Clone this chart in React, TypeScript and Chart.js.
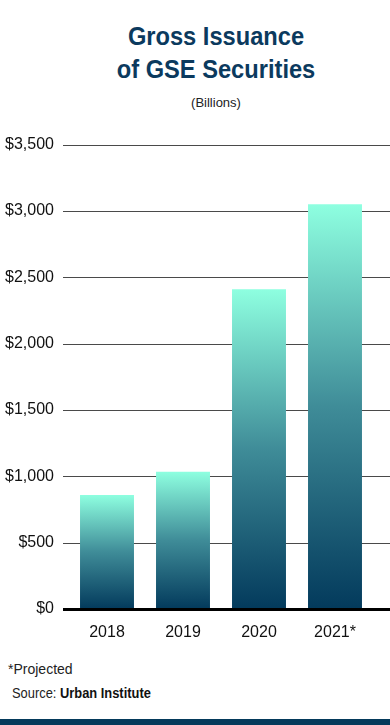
import React, { useEffect, useRef } from "react";
import { Chart, registerables } from "chart.js";

Chart.register(...registerables);

const categories = ["2018", "2019", "2020", "2021*"];
const issuance = [860, 1035, 2410, 3050];
const yTicks = [0, 500, 1000, 1500, 2000, 2500, 3000, 3500];
const yTickLabels = ["$0", "$500", "$1,000", "$1,500", "$2,000", "$2,500", "$3,000", "$3,500"];

const FONT = "'Liberation Sans', Arial, sans-serif";
const NAVY = "#0b3a5e";

const gridPlugin = {
  id: "extendedGrid",
  beforeDatasetsDraw(chart: any) {
    const { ctx, chartArea } = chart;
    const y = chart.scales.y;
    const x0 = chartArea.left - 6;
    const x1 = chart.width;
    ctx.save();
    yTicks.forEach((v) => {
      if (v === 0) return;
      const py = Math.round(y.getPixelForValue(v)) + 0.5;
      ctx.strokeStyle = "#4a4a4a";
      ctx.lineWidth = 1;
      ctx.beginPath();
      ctx.moveTo(x0, py);
      ctx.lineTo(x1, py);
      ctx.stroke();
    });
    ctx.restore();
  },
  afterDatasetsDraw(chart: any) {
    const { ctx, chartArea } = chart;
    const y = chart.scales.y;
    const py = y.getPixelForValue(0);
    ctx.save();
    ctx.fillStyle = "#000";
    ctx.fillRect(chartArea.left - 6, py - 1, chart.width - chartArea.left + 6, 3);
    ctx.restore();
  },
};

export default function App() {
  const ref = useRef<HTMLCanvasElement>(null);

  useEffect(() => {
    if (!ref.current) return;
    const chart = new Chart(ref.current, {
      type: "bar",
      data: {
        labels: categories,
        datasets: [
          {
            data: issuance,
            backgroundColor: (c: any) => {
              const ch = c.chart;
              if (!ch.chartArea || c.type !== "data") return "#3a8a9a";
              const ys = ch.scales.y;
              const top = ys.getPixelForValue(c.raw);
              const bottom = ys.getPixelForValue(0);
              const g = ch.ctx.createLinearGradient(0, top, 0, bottom);
              g.addColorStop(0, "#8effe0");
              g.addColorStop(0.5, "#3f8c98");
              g.addColorStop(1, "#033a5c");
              return g;
            },
            borderWidth: 0,
            barPercentage: 0.71,
            categoryPercentage: 1,
          },
        ],
      },
      options: {
        animation: false,
        responsive: false,
        maintainAspectRatio: false,
        layout: { padding: { top: 19, right: 17, left: 0, bottom: 0 } },
        plugins: { legend: { display: false }, tooltip: { enabled: false } },
        scales: {
          x: {
            grid: { display: false, drawTicks: false },
            border: { display: false },
            ticks: {
              color: "#111",
              padding: 14,
              font: { family: FONT, size: 16 },
            },
            afterFit: (s: any) => {
              s.height = 51;
            },
          },
          y: {
            min: 0,
            max: 3500,
            grid: { display: false, drawTicks: false },
            border: { display: false },
            afterBuildTicks: (s: any) => {
              s.ticks = yTicks.map((v) => ({ value: v }));
            },
            ticks: {
              color: "#111",
              padding: 15,
              font: { family: FONT, size: 16 },
              callback: (v: any) => {
                const i = yTicks.indexOf(Number(v));
                return i >= 0 ? yTickLabels[i] : "";
              },
            },
            afterFit: (s: any) => {
              s.width = 69;
            },
          },
        },
      },
      plugins: [gridPlugin],
    });
    return () => chart.destroy();
  }, []);

  return (
    <div
      style={{
        position: "absolute",
        left: 0,
        top: 0,
        width: 390,
        height: 725,
        background: "#fff",
        overflow: "hidden",
        fontFamily: FONT,
      }}
    >
      <div
        style={{
          position: "absolute",
          left: 42,
          width: 348,
          top: 20,
          textAlign: "center",
          color: NAVY,
          fontWeight: 700,
          fontSize: 26,
          lineHeight: "33px",
          transform: "scaleX(0.91)",
          transformOrigin: "center",
        }}
      >
        Gross Issuance
        <br />
        of GSE Securities
      </div>
      <div
        style={{
          position: "absolute",
          left: 42,
          width: 348,
          top: 94,
          textAlign: "center",
          color: "#222",
          fontSize: 13,
          lineHeight: "18px",
        }}
      >
        (Billions)
      </div>
      <canvas
        ref={ref}
        width={390}
        height={540}
        style={{ position: "absolute", left: 0, top: 120, width: 390, height: 540 }}
      />
      <div
        style={{
          position: "absolute",
          left: 8,
          top: 660,
          color: "#222",
          fontSize: 14,
          lineHeight: "18px",
        }}
      >
        *Projected
      </div>
      <div
        style={{
          position: "absolute",
          left: 12,
          top: 684,
          color: "#222",
          fontSize: 14,
          lineHeight: "18px",
          transform: "scaleX(0.92)",
          transformOrigin: "left",
        }}
      >
        Source: <b style={{ color: "#111" }}>Urban Institute</b>
      </div>
      <div
        style={{
          position: "absolute",
          left: 0,
          top: 719,
          width: 390,
          height: 6,
          background: "#053a5b",
        }}
      />
    </div>
  );
}
